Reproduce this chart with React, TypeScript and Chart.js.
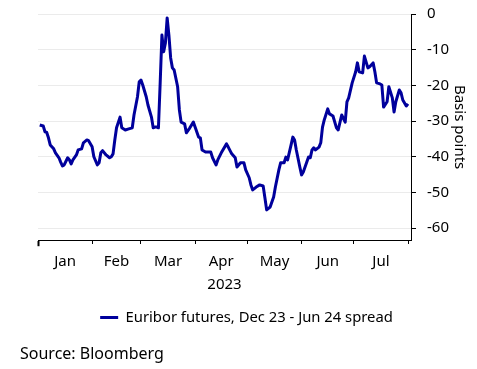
import React, { useEffect, useRef } from "react";
import { Chart, registerables } from "chart.js";

Chart.register(...registerables);

// Day offsets since 1 Jan 2023
const days = [
  1, 3, 4, 5, 6, 7, 9, 10, 12, 13, 14, 15, 17, 18, 19, 20, 22, 23, 25, 26, 28, 29, 31, 32, 34, 35, 36, 37, 39, 41,
  42, 43, 44, 45, 47, 48, 50, 52, 54, 55, 57, 58, 59, 60, 62, 63, 65, 66, 67, 68, 69, 70, 71, 72, 73, 74, 75, 76,
  77, 78, 80, 81, 82, 84, 85, 87, 89, 90, 92, 93, 94, 96, 99, 100, 102, 103, 105, 108, 109, 111, 113, 114, 116,
  118, 119, 121, 122, 123, 125, 127, 129, 130, 131, 133, 135, 136, 138, 139, 141, 142, 143, 145, 146, 147, 148,
  150, 151, 152, 154, 155, 156, 157, 158, 159, 161, 162, 163, 164, 166, 167, 169, 171, 172, 174, 176, 177, 178,
  180, 182, 183, 184, 186, 187, 189, 190, 192, 193, 194, 196, 197, 198, 200, 201, 203, 204, 205, 207, 208, 209,
  211, 212,
];

const spread = [
  -31.1, -31.4, -33.0, -33.2, -34.7, -36.7, -37.8, -38.9, -40.3, -41.5, -42.6, -42.3, -40.3, -40.9, -42.0, -40.9,
  -39.5, -38.1, -37.8, -36.1, -35.3, -35.5, -37.2, -40.0, -42.3, -41.7, -38.9, -38.3, -39.5, -40.3,
  -40.0, -39.2, -35.3, -31.9, -28.9, -31.9, -32.5, -32.2, -31.9, -28.3, -23.2, -19.0, -18.5, -19.9, -23.2, -25.5,
  -28.9, -31.9, -31.7, -31.7, -31.9, -19.3, -5.9, -10.6, -8.1, -1.1, -5.9, -12.3,
  -15.1, -15.7, -20.4, -26.9, -30.3, -30.8, -33.3, -31.9, -30.3, -31.7, -34.5, -34.7, -38.1, -38.7, -38.7, -40.3,
  -42.3, -40.9, -38.9, -36.4, -37.3, -39.2, -40.3, -42.9, -41.7,
  -41.7, -43.7, -45.9, -47.9, -49.3, -48.5, -47.9, -48.2, -51.5, -54.9, -54.1, -51.3, -48.5, -43.7, -41.7, -41.7,
  -40.1, -40.9, -36.7, -34.5, -35.3, -38.1,
  -42.9, -45.1, -44.3, -41.5, -40.1, -40.3, -38.1, -37.5, -38.1, -37.3, -36.1, -31.7, -29.7, -26.6, -28.0, -28.6,
  -31.9, -32.5, -28.3, -30.3, -24.6, -23.5,
  -19.3, -16.2, -13.7, -16.2, -16.5, -11.8, -15.1, -14.8, -13.7, -16.2, -19.3, -19.6, -19.9, -26.1, -24.6, -20.4,
  -23.5, -27.5, -24.6, -21.3, -22.1, -24.1,
  -25.8, -25.2,
];

const monthStarts = [0, 31, 59, 90, 120, 151, 181, 212];
const monthLabels = ["Jan", "Feb", "Mar", "Apr", "May", "Jun", "Jul"];
const yTicks = [-60, -50, -40, -30, -20, -10, 0];

const FONT = "'Noto Sans', sans-serif";
const LINE_COLOR = "#00009c";

export default function App() {
  const ref = useRef<HTMLCanvasElement | null>(null);

  useEffect(() => {
    if (!ref.current) return;
    const mids = monthLabels.map((_, i) => (monthStarts[i] + monthStarts[i + 1]) / 2);
    const chart = new Chart(ref.current, {
      type: "line",
      data: {
        datasets: [
          {
            label: "Euribor futures, Dec 23 - Jun 24 spread",
            data: days.map((d, i) => ({ x: d, y: spread[i] })),
            borderColor: LINE_COLOR,
            backgroundColor: LINE_COLOR,
            borderWidth: 3,
            pointRadius: 0,
            tension: 0,
            borderJoinStyle: "round",
          },
        ],
      },
      options: {
        animation: false,
        responsive: false,
        maintainAspectRatio: false,
        layout: { padding: { left: 23, right: 7, top: 14, bottom: 34 } },
        plugins: {
          legend: {
            position: "bottom",
            labels: {
              usePointStyle: true,
              pointStyle: "line",
              pointStyleWidth: 18,
              color: "#000",
              font: { family: FONT, size: 14.8 },
              padding: 10,
            },
          },
          tooltip: { enabled: false },
        },
        scales: {
          x: {
            type: "linear",
            min: 0,
            max: 213.7,
            afterBuildTicks: (scale: any) => {
              const vals = [...monthStarts, ...mids].sort((a, b) => a - b);
              scale.ticks = vals.map((v) => ({ value: v }));
            },
            ticks: {
              autoSkip: false,
              maxRotation: 0,
              padding: 7,
              color: "#000",
              font: { family: FONT, size: 15 },
              callback: (v: any) => {
                const i = mids.indexOf(Number(v));
                return i >= 0 ? monthLabels[i] : "";
              },
            },
            grid: {
              drawOnChartArea: false,
              drawTicks: true,
              tickLength: 6,
              tickWidth: (ctx: any) => (ctx.tick && ctx.tick.value === 0 ? 2 : 1),
              tickBorderDash: (ctx: any) => (ctx.tick && ctx.tick.value === 0 ? [] : [3, 20]),
              tickColor: (ctx: any) =>
                ctx.tick && monthStarts.includes(ctx.tick.value) ? "#000" : "rgba(0,0,0,0)",
            },
            border: { display: true, color: "#000", width: 1 },
            title: {
              display: true,
              text: "2023",
              color: "#000",
              font: { family: FONT, size: 15 },
              padding: { top: -2, bottom: 6 },
            },
          },
          y: {
            position: "right",
            min: -63.4,
            max: 0,
            afterBuildTicks: (scale: any) => {
              scale.ticks = yTicks.map((v) => ({ value: v }));
            },
            afterFit: (scale: any) => {
              scale.width = 59;
              scale.paddingTop = 0;
              scale.paddingBottom = 0;
            },
            ticks: {
              padding: 11,
              color: "#000",
              font: { family: FONT, size: 15 },
            },
            grid: {
              color: "#ebebeb",
              lineWidth: 1,
              tickColor: "#000",
              tickLength: 5,
            },
            border: { display: true, color: "#000", width: 1 },
            title: {
              display: true,
              text: "Basis points",
              color: "#000",
              font: { family: FONT, size: 15 },
              padding: { top: 2, bottom: 4 },
            },
          },
          yLeftSpace: {
            position: "left",
            display: true,
            min: 0,
            max: 1,
            afterFit: (scale: any) => {
              scale.width = 15;
              scale.paddingTop = 0;
              scale.paddingBottom = 0;
            },
            ticks: { display: false },
            grid: { display: false, drawTicks: false },
            border: { display: false },
          },
        },
      },
    } as any);
    return () => chart.destroy();
  }, []);

  return (
    <div style={{ position: "absolute", left: 0, top: 0, width: 477, height: 369, background: "#fff" }}>
      <canvas ref={ref} width={477} height={369} style={{ display: "block" }} />
      <div
        style={{
          position: "absolute",
          left: 20,
          top: 342,
          fontFamily: FONT,
          fontSize: 16,
          lineHeight: "22px",
          color: "#000",
          whiteSpace: "nowrap",
        }}
      >
        Source: Bloomberg
      </div>
    </div>
  );
}
